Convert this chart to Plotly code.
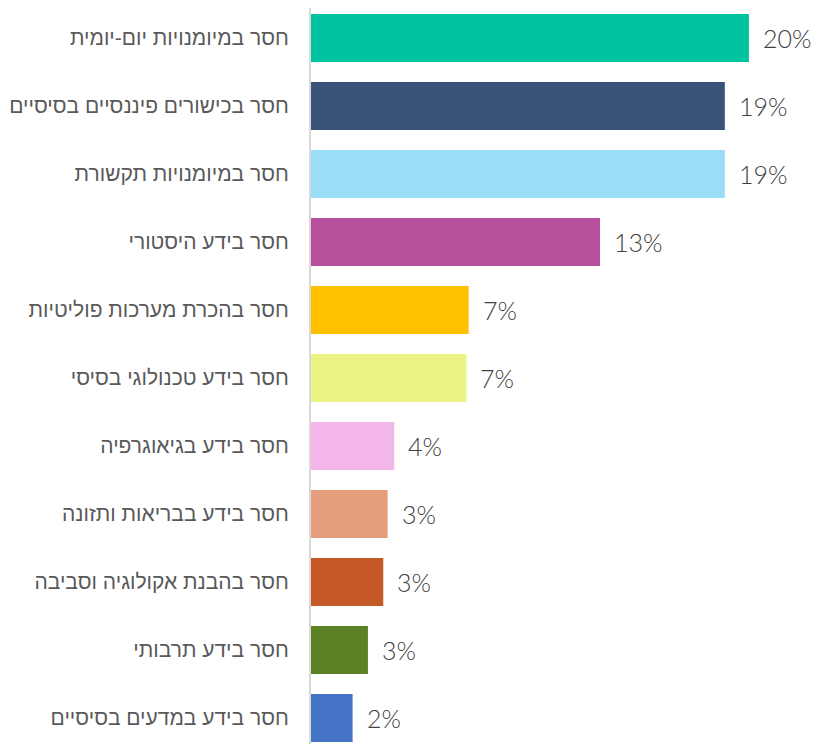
import plotly.graph_objects as go

# categories top to bottom
categories = [
    "חסר במיומנויות יום-יומית",
    "חסר בכישורים פיננסיים בסיסיים",
    "חסר במיומנויות תקשורת",
    "חסר בידע היסטורי",
    "חסר בהכרת מערכות פוליטיות",
    "חסר בידע טכנולוגי בסיסי",
    "חסר בידע בגיאוגרפיה",
    "חסר בידע בבריאות ותזונה",
    "חסר בהבנת אקולוגיה וסביבה",
    "חסר בידע תרבותי",
    "חסר בידע במדעים בסיסיים",
]
values = [20.0, 18.9, 18.9, 13.2, 7.2, 7.1, 3.8, 3.5, 3.3, 2.6, 1.9]
value_labels = ["20%", "19%", "19%", "13%", "7%", "7%", "4%", "3%", "3%", "3%", "2%"]
colors = [
    "#00C4A0", "#3B5279", "#9BDCF6", "#B8509D", "#FFC000", "#EBF483",
    "#F2B6E8", "#E59E7C", "#C55A28", "#5C8024", "#4472C4",
]

fig = go.Figure(
    go.Bar(
        x=values,
        y=categories,
        orientation="h",
        marker=dict(color=colors, line=dict(width=0)),
        hoverinfo="skip",
    )
)

# value labels sit a little right of each bar end
for cat, v, lab in zip(categories, values, value_labels):
    fig.add_annotation(
        x=v,
        y=cat,
        text=lab,
        showarrow=False,
        xanchor="left",
        xshift=12,
        font=dict(family="Lato, sans-serif", size=25, color="#404040", weight=300),
    )

# the page body adds an 8px offset, so margins are trimmed by that much
fig.update_layout(
    width=825,
    height=744,
    margin=dict(l=303, r=0, t=0, b=0),
    plot_bgcolor="white",
    paper_bgcolor="white",
    bargap=0.294,
    showlegend=False,
)
fig.update_xaxes(
    range=[0, 23.84],
    showgrid=False,
    zeroline=False,
    showticklabels=False,
    showline=False,
)
fig.update_yaxes(
    range=[10.50, -0.441],
    showgrid=False,
    zeroline=False,
    showline=True,
    linecolor="#D9D9D9",
    linewidth=2,
    ticks="",
    ticklabelstandoff=16,
    tickfont=dict(family="Liberation Sans, Arial, sans-serif", size=21, color="#595959"),
)

fig.write_html("out.html")
